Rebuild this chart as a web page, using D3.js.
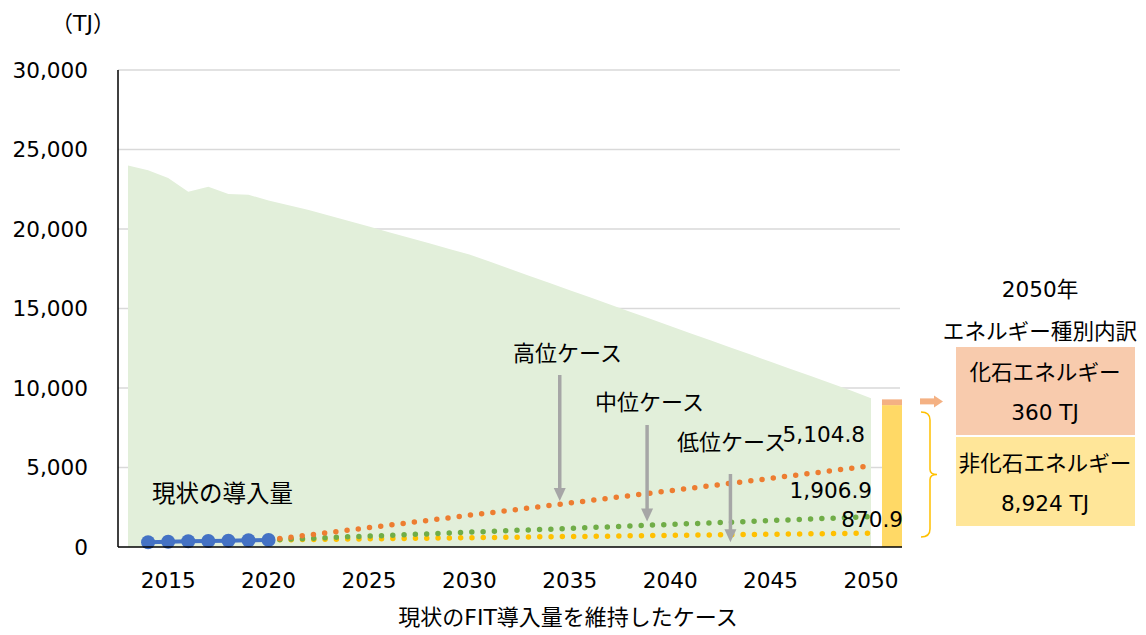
<!DOCTYPE html>
<html>
<head>
<meta charset="utf-8">
<script src="https://cdn.jsdelivr.net/npm/d3@7"></script>
<style>
  body { margin: 0; background: #fff; }
  text { font-family: "DejaVu Sans", "Noto Sans CJK JP", sans-serif; fill: #000; }
</style>
</head>
<body>
<script>
// data
const areaYears = d3.range(2013, 2051);
const demand = [24000, 23700, 23200, 22350, 22650, 22200, 22150, 21800, 21500, 21200,
  20850, 20500, 20150, 19800, 19450, 19100, 18750, 18400, 17950, 17500,
  17050, 16600, 16150, 15700, 15250, 14800, 14350, 13900, 13450, 13000,
  12550, 12100, 11650, 11200, 10750, 10300, 9850, 9350];

const actualYears = [2014, 2015, 2016, 2017, 2018, 2019, 2020];
const actual = [300, 330, 360, 380, 400, 420, 440];

const caseYears = d3.range(2020, 2051);
const highCase = [440, 600, 750, 910, 1060, 1220, 1370, 1530, 1680, 1840, 2000,
  2150, 2300, 2460, 2610, 2770, 2920, 3080, 3230, 3390, 3540,
  3700, 3850, 4010, 4160, 4320, 4480, 4630, 4790, 4950, 5104.8];
const midCase = [440, 490, 540, 590, 640, 690, 730, 780, 830, 880, 930,
  980, 1030, 1080, 1120, 1170, 1220, 1270, 1320, 1370, 1420,
  1470, 1510, 1560, 1610, 1660, 1710, 1760, 1810, 1860, 1906.9];
const lowCase = [440, 455, 470, 485, 500, 515, 530, 545, 555, 570, 585,
  600, 615, 630, 645, 660, 670, 685, 700, 715, 730,
  745, 760, 775, 785, 800, 815, 830, 845, 860, 870.9];

const breakdown = [
  { name: "非化石エネルギー", value: 8924, bar: "#ffd966", box: "#ffe699" },
  { name: "化石エネルギー", value: 360, bar: "#f4b183", box: "#f8cbad" }
];

const yTicks = [0, 5000, 10000, 15000, 20000, 25000, 30000];
const xTicks = [2015, 2020, 2025, 2030, 2035, 2040, 2045, 2050];

const W = 1146, H = 635;
const svg = d3.select("body").append("svg").attr("width", W).attr("height", H);

const x = d3.scaleLinear().domain([2013, 2050]).range([128, 871]);
const y = d3.scaleLinear().domain([0, 30000]).range([547, 70]);
const left = 118, right = 902;
const fs = "21.6px";

// gridlines
svg.append("g").selectAll("line")
  .data(yTicks.filter(d => d > 0))
  .enter().append("line")
  .attr("x1", left).attr("x2", right - 2)
  .attr("y1", d => y(d)).attr("y2", d => y(d))
  .attr("stroke", "#d9d9d9").attr("stroke-width", 1.3);

// area
const area = d3.area()
  .x((d, i) => x(areaYears[i]))
  .y0(y(0))
  .y1(d => y(d));
svg.append("path").datum(demand)
  .attr("d", area)
  .attr("fill", "#e2efda");

// stacked bar 2050
let acc = 0;
breakdown.forEach(function (b) {
  svg.append("rect")
    .attr("x", x(2050) + 11)
    .attr("width", 20)
    .attr("y", y(acc + b.value))
    .attr("height", y(acc) - y(acc + b.value))
    .attr("fill", b.bar);
  acc += b.value;
});

// dotted case lines
const caseLine = d3.line().x((d, i) => x(caseYears[i])).y(d => y(d));
[[lowCase, "#ffc000"], [midCase, "#70ad47"], [highCase, "#ed7d31"]].forEach(function (c) {
  svg.append("path").datum(c[0])
    .attr("d", caseLine)
    .attr("fill", "none")
    .attr("stroke", c[1])
    .attr("stroke-width", 5.5)
    .attr("stroke-linecap", "round")
    .attr("stroke-dasharray", "0 11.3");
});

// actual series
const actLine = d3.line().x((d, i) => x(actualYears[i])).y(d => y(d));
svg.append("path").datum(actual)
  .attr("d", actLine)
  .attr("fill", "none")
  .attr("stroke", "#4472c4")
  .attr("stroke-width", 4);
svg.append("g").selectAll("circle")
  .data(actual).enter().append("circle")
  .attr("cx", (d, i) => x(actualYears[i]))
  .attr("cy", d => y(d))
  .attr("r", 7)
  .attr("fill", "#4472c4");

// axes
svg.append("line").attr("x1", left).attr("x2", left).attr("y1", y(30000)).attr("y2", y(0))
  .attr("stroke", "#000").attr("stroke-width", 1.5);
svg.append("line").attr("x1", left).attr("x2", right).attr("y1", y(0)).attr("y2", y(0))
  .attr("stroke", "#000").attr("stroke-width", 1.5);

svg.append("g").selectAll("text")
  .data(yTicks).enter().append("text")
  .attr("x", 88)
  .attr("y", d => y(d) + 7.5)
  .attr("text-anchor", "end")
  .style("font-size", fs)
  .text(d3.format(","));

svg.append("g").selectAll("text")
  .data(xTicks).enter().append("text")
  .attr("x", d => x(d))
  .attr("y", 588)
  .attr("text-anchor", "middle")
  .style("font-size", fs)
  .text(d => d);

svg.append("text").attr("x", 83).attr("y", 31)
  .attr("text-anchor", "middle").style("font-size", "22px").text("（TJ）");

svg.append("text").attr("x", 568).attr("y", 625)
  .attr("text-anchor", "middle").style("font-size", "22px")
  .text("現状のFIT導入量を維持したケース");

svg.append("text").attr("x", 152).attr("y", 502)
  .style("font-size", "23.5px").text("現状の導入量");

// case labels with arrows
const arrows = [
  { label: "高位ケース", tx: 513, ty: 361, year: 2034.5, top: 375, end: 2900 },
  { label: "中位ケース", tx: 595, ty: 410, year: 2038.85, top: 425, end: 1600 },
  { label: "低位ケース", tx: 677, ty: 450, year: 2043, top: 474, end: 300 }
];
arrows.forEach(function (a) {
  const ax = x(a.year), ay = y(a.end);
  svg.append("line").attr("x1", ax).attr("x2", ax)
    .attr("y1", a.top).attr("y2", ay - 10)
    .attr("stroke", "#a6a6a6").attr("stroke-width", 3.5);
  svg.append("path")
    .attr("d", `M${ax - 6},${ay - 13}L${ax + 6},${ay - 13}L${ax},${ay}Z`)
    .attr("fill", "#a6a6a6");
  svg.append("text").attr("x", a.tx).attr("y", a.ty)
    .style("font-size", "22px").text(a.label);
});

// end value labels
const endLabels = [
  { v: highCase[highCase.length - 1], x: 865, y: 442 },
  { v: midCase[midCase.length - 1], x: 872, y: 498 },
  { v: lowCase[lowCase.length - 1], x: 903, y: 527 }
];
endLabels.forEach(function (e) {
  svg.append("text").attr("x", e.x).attr("y", e.y)
    .attr("text-anchor", "end").style("font-size", fs)
    .text(d3.format(",.1f")(e.v));
});

// right panel
svg.append("text").attr("x", 1040).attr("y", 297)
  .attr("text-anchor", "middle").style("font-size", fs).text("2050年");
svg.append("text").attr("x", 1040).attr("y", 339)
  .attr("text-anchor", "middle").style("font-size", fs).text("エネルギー種別内訳");

const boxes = [
  { b: breakdown[1], y0: 347, y1: 435 },
  { b: breakdown[0], y0: 437, y1: 526 }
];
boxes.forEach(function (bx) {
  svg.append("rect").attr("x", 956).attr("width", 179)
    .attr("y", bx.y0).attr("height", bx.y1 - bx.y0)
    .attr("fill", bx.b.box);
  const cy = (bx.y0 + bx.y1) / 2;
  svg.append("text").attr("x", 1045).attr("y", cy - 11)
    .attr("text-anchor", "middle").style("font-size", fs).text(bx.b.name);
  svg.append("text").attr("x", 1045).attr("y", cy + 29)
    .attr("text-anchor", "middle").style("font-size", fs)
    .text(d3.format(",")(bx.b.value) + " TJ");
});

// small orange arrow
const oy = y(acc) + 2;
svg.append("line").attr("x1", 920).attr("x2", 935).attr("y1", oy).attr("y2", oy)
  .attr("stroke", "#f4b183").attr("stroke-width", 6);
svg.append("path").attr("d", `M934,${oy - 6}L943,${oy}L934,${oy + 6}Z`).attr("fill", "#f4b183");

// bracket
const bt = y(breakdown[0].value) + 7, bb = y(0) - 10, bm = (bt + bb) / 2;
svg.append("path")
  .attr("d", `M921,${bt}Q930,${bt} 930,${bt + 8}L930,${bm - 5}Q930,${bm} 937,${bm}Q930,${bm} 930,${bm + 5}L930,${bb - 8}Q930,${bb} 921,${bb}`)
  .attr("fill", "none").attr("stroke", "#ffc000").attr("stroke-width", 1.5);
</script>
</body>
</html>
